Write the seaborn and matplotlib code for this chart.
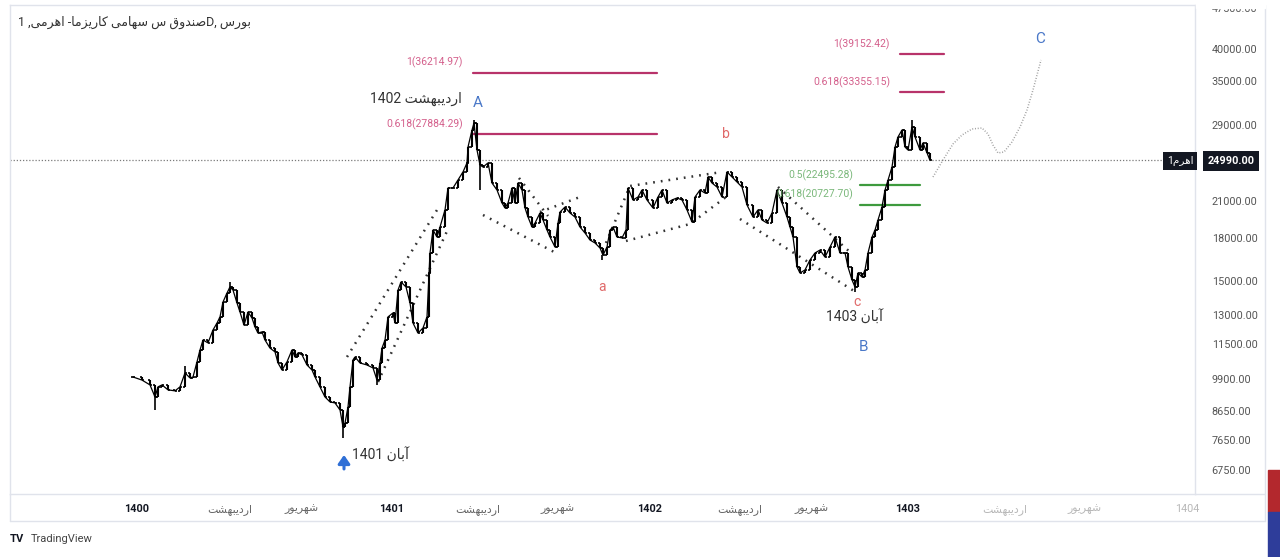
import numpy as np
import matplotlib
matplotlib.use("Agg")
import matplotlib.pyplot as plt
import seaborn as sns
from matplotlib.lines import Line2D
from matplotlib.patches import Rectangle
from matplotlib.ticker import FixedLocator, NullLocator

# ---- data (x = trading-day index, 0 = start of 1400) ----
days = [-4, 5, 13, 18, 21, 25, 31, 38, 43, 48, 53, 56, 60, 63, 66, 71, 76, 80, 83, 86,
        90, 93, 96, 100, 103, 107, 111, 115, 118, 121, 125, 128, 133, 138, 141, 145, 150, 155, 158, 161,
        165, 170, 175, 178, 183, 188, 193, 198, 203, 206, 208, 211, 213, 216, 218, 223, 230, 236, 240, 243,
        245, 248, 251, 256, 258, 261, 264, 269, 273, 276, 281, 286, 290, 292, 293, 296, 300, 303, 308, 311,
        316, 321, 326, 330, 331, 335, 337, 340, 343, 346, 351, 355, 360, 365, 368, 371, 375, 378, 381, 385,
        388, 391, 395, 398, 403, 406, 410, 413, 418, 421, 423, 428, 433, 438, 443, 448, 453, 458, 463, 466,
        470, 473, 476, 480, 485, 489, 491, 496, 501, 505, 510, 516, 521, 525, 530, 535, 540, 545, 550, 555,
        558, 563, 568, 571, 575, 580, 585, 590, 595, 600, 605, 610, 616, 621, 625, 630, 635, 640, 645, 650,
        653, 656, 660, 663, 668, 673, 678, 683, 688, 693, 698, 703, 708, 711, 715, 718, 721, 725, 728, 731,
        735, 738, 741, 745, 748, 751, 755, 758, 761, 765, 768, 771, 775, 778, 783, 786, 790, 793]
closes = [10000, 9870, 9670, 9190, 9590, 9670, 9470, 9430, 9590, 10170, 9960, 10000, 10660, 11210, 11690, 11550, 12200, 12560, 12890, 13730,
          14260, 14630, 14440, 13670, 13160, 12450, 13160, 12830, 12350, 12040, 12100, 11690, 11300, 11120, 10610, 10300, 10660, 11210, 10880, 11070,
          10980, 10520, 10300, 10000, 9590, 9190, 9000, 8960, 8700, 8100, 8230, 8810, 9590, 10750, 10880, 10610, 10520, 10390, 9870, 10610,
          11300, 11690, 12890, 13110, 12560, 14440, 14940, 14630, 13670, 12560, 12040, 12300, 12890, 15520, 16890, 18610, 18070, 18850, 20260, 22230,
          22230, 22990, 23790, 24710, 26430, 28400, 29260, 26100, 24500, 24290, 24710, 22700, 22040, 20860, 20430, 20860, 22230, 20860, 22700, 22040,
          20430, 19660, 18850, 19170, 20000, 19420, 18610, 18070, 17320, 19170, 20080, 20510, 20000, 19660, 18850, 18380, 17840, 17620, 17250, 16740,
          17320, 18610, 18850, 18070, 18000, 18610, 22230, 21130, 21400, 22040, 21130, 20430, 21400, 22040, 20860, 21130, 21310, 21130, 20260, 19250,
          21400, 22040, 21760, 23290, 22700, 22320, 21400, 23790, 23290, 22800, 22320, 20690, 19660, 20260, 19420, 19170, 20000, 22040, 20860, 19660,
          18850, 18070, 15920, 15520, 15720, 16400, 16890, 17100, 16600, 17320, 18070, 16890, 16890, 15920, 15070, 14630, 15520, 15260, 15720, 16890,
          18070, 18610, 19420, 20510, 22040, 22990, 24290, 26430, 27580, 28400, 26430, 26100, 28770, 27580, 26100, 26890, 25770, 24990]
# wicks that reach past the open/close range
wick_days = [18, 48, 93, 206, 240, 337, 343, 465, 718, 775]
wick_prices = [8700, 10480, 14940, 7730, 9670, 29630, 22040, 16400, 14300, 29630]

last_price = 24990
fib_red = [36214.97, 27884.29, 39152.42, 33355.15]
fib_red_text = ["1(36214.97)", "0.618(27884.29)", "1(39152.42)", "0.618(33355.15)"]
fib_green = [22495.28, 20727.70]
fib_green_text = ["0.5(22495.28)", "0.618(20727.70)"]

price_ticks = [6750, 7650, 8650, 9900, 11500, 13000, 15000, 18000, 21000, 29000, 35000, 40000, 47500]
time_ticks = [0, 93, 165, 255, 341, 421, 513, 603, 675, 770, 868, 948, 1050]


# ---- minimal Persian shaping (matplotlib has no bidi / joining) ----
FORMS = {
    "ا": ("\uFE8D", "\uFE8E", None, None), "آ": ("\uFE81", "\uFE82", None, None),
    "ب": ("\uFE8F", "\uFE90", "\uFE91", "\uFE92"), "ت": ("\uFE95", "\uFE96", "\uFE97", "\uFE98"),
    "د": ("\uFEA9", "\uFEAA", None, None), "ر": ("\uFEAD", "\uFEAE", None, None),
    "ز": ("\uFEAF", "\uFEB0", None, None), "س": ("\uFEB1", "\uFEB2", "\uFEB3", "\uFEB4"),
    "ش": ("\uFEB5", "\uFEB6", "\uFEB7", "\uFEB8"), "ص": ("\uFEB9", "\uFEBA", "\uFEBB", "\uFEBC"),
    "ق": ("\uFED5", "\uFED6", "\uFED7", "\uFED8"), "م": ("\uFEE1", "\uFEE2", "\uFEE3", "\uFEE4"),
    "ن": ("\uFEE5", "\uFEE6", "\uFEE7", "\uFEE8"), "ه": ("\uFEE9", "\uFEEA", "\uFEEB", "\uFEEC"),
    "و": ("\uFEED", "\uFEEE", None, None), "ی": ("\uFBFC", "\uFBFD", "\uFBFE", "\uFBFF"),
    "ک": ("\uFB8E", "\uFB8F", "\uFB90", "\uFB91"),
}


def fa(word):
    out = []
    for i, ch in enumerate(word):
        if ch not in FORMS:
            out.append(ch)
            continue
        iso, fin, ini, med = FORMS[ch]
        prev = word[i - 1] if i > 0 else ""
        nxt = word[i + 1] if i < len(word) - 1 else ""
        jp = prev in FORMS and FORMS[prev][2] is not None
        jn = ini is not None and nxt in FORMS
        out.append(med if jp and jn else fin if jp else ini if jn else iso)
    return "".join(reversed(out))


sns.set_theme(style="white")
plt.rcParams["font.family"] = ["Roboto", "DejaVu Sans"]

W, H = 1280, 557
fig = plt.figure(figsize=(W / 100, H / 100), dpi=100)
X0, X1, Y0, Y1 = 10, 1195, 5, 494
ax = fig.add_axes([X0 / W, 1 - Y1 / H, (X1 - X0) / W, (Y1 - Y0) / H])
ax.set_yscale("log")
ax.set_xlim(-127, 1058)
ax.set_ylim(6098, 48175)


def at(xp, yp):
    # screen pixel of the reference -> data coords (for drawings / labels only)
    return xp - 137, 40000 * np.exp(-(yp - 49) / 236.6)


# price bars (open = previous close)
opens = [closes[0]] + closes[:-1]
lo = np.minimum(opens, closes)
hi = np.maximum(opens, closes)
ax.vlines(days, lo, hi, color="black", lw=1.5, zorder=5)
ax.hlines(opens, np.array(days) - 1.8, days, color="black", lw=1.2, zorder=5)
ax.hlines(closes, days, np.array(days) + 1.8, color="black", lw=1.2, zorder=5)
sns.lineplot(x=days, y=closes, ax=ax, color="black", lw=0.9, zorder=4)
wick_close = [closes[int(np.argmin(np.abs(np.array(days) - d)))] for d in wick_days]
ax.vlines(wick_days, np.minimum(wick_close, wick_prices), np.maximum(wick_close, wick_prices),
          color="black", lw=1.2, zorder=5)

# last price dotted line
ax.axhline(last_price, color="#7a7a7a", lw=0.9, ls=(0, (1, 1.5)), zorder=2)

# dotted drawings (wedges / triangles)
dot = dict(color="#333333", lw=1.8, ls=(0, (0.7, 2.4)), zorder=3)
drawings = [
    [(347, 357), (437, 210)], [(378, 382), (448, 229)],
    [(483, 215), (556, 253)], [(519, 178), (548, 216)], [(540, 212), (580, 197)],
    [(606, 243), (630, 186), (722, 172)], [(626, 241), (690, 224), (726, 197)],
    [(778, 187), (851, 253)], [(740, 219), (854, 291)],
]
for pts in drawings:
    xy = np.array([at(*p) for p in pts])
    ax.plot(xy[:, 0], xy[:, 1], **dot)

# projected path
proj = [(933, 177), (943, 160), (953, 144), (962, 135), (972, 129), (982, 128), (988, 134), (993, 145),
        (998, 153), (1004, 152), (1012, 142), (1020, 127), (1027, 110), (1033, 90), (1037, 75), (1041, 60)]
pxy = np.array([at(*p) for p in proj])
ax.plot(pxy[:, 0], pxy[:, 1], color="#9a9a9a", lw=1.1, ls=(0, (0.6, 1.2)), zorder=3)

# fib levels
red_line, red_txt = "#b8336a", "#d4608c"
for lvl, txt, (xa, xb) in zip(fib_red, fib_red_text, [(336, 520), (336, 520), (763, 807), (763, 807)]):
    ax.plot([xa, xb], [lvl, lvl], color=red_line, lw=1.6, zorder=3)
    ax.annotate(txt, (xa - 10, lvl), xytext=(0, 3), textcoords="offset points",
                ha="right", va="bottom", fontsize=7.5, color=red_txt)
green_line, green_txt = "#3e9a3e", "#7bb87b"
for lvl, txt in zip(fib_green, fib_green_text):
    ax.plot([723, 783], [lvl, lvl], color=green_line, lw=1.6, zorder=3)
    ax.annotate(txt, (716, lvl), xytext=(0, 3), textcoords="offset points",
                ha="right", va="bottom", fontsize=7.5, color=green_txt, zorder=6)

# wave labels
blue, pink, dark = "#4a78c8", "#e06a6a", "#333333"
for s, p, c, fs in [("A", (478, 103), blue, 11), ("B", (864, 347), blue, 11), ("C", (1040, 39), blue, 11),
                    ("a", (602, 287), pink, 10), ("b", (726, 134), pink, 10), ("c", (857, 302), pink, 10)]:
    ax.text(*at(*p), s, ha="center", va="center", fontsize=fs, color=c, zorder=6)
ax.text(*at(416, 99), "1402 " + fa("اردیبهشت"), ha="center", va="center", fontsize=10, color=dark)
ax.text(*at(855, 317), "1403 " + fa("آبان"), ha="center", va="center", fontsize=10, color=dark, zorder=6)
ax.text(*at(380, 455), "1401 " + fa("آبان"), ha="center", va="center", fontsize=10, color=dark)
ax.annotate("", at(344, 455), xytext=at(344, 469),
            arrowprops=dict(arrowstyle="-|>,head_length=0.5,head_width=0.35", color="#2f6fd6",
                            lw=2.2, mutation_scale=10, shrinkA=0, shrinkB=0))

# axes styling
for side in ["top", "left", "bottom", "right"]:
    ax.spines[side].set_color("#e0e3eb")
    ax.spines[side].set_linewidth(1)
ax.yaxis.tick_right()
ax.yaxis.set_major_locator(FixedLocator(price_ticks))
ax.yaxis.set_minor_locator(NullLocator())
ax.set_yticklabels([f"{v:.2f}" for v in price_ticks])
ax.tick_params(axis="y", length=0, pad=12, labelsize=7.8, labelcolor="#555555")
month = [fa("اردیبهشت"), fa("شهریور")]
xlabels = ["1400", *month, "1401", *month, "1402", *month, "1403", *month, "1404"]
ax.set_xticks(time_ticks, xlabels)
ax.tick_params(axis="x", length=0, pad=7, labelsize=7.8)
for i, lab in enumerate(ax.get_xticklabels()):
    if i in (0, 3, 6, 9):
        lab.set_color("#131722")
        lab.set_fontweight("bold")
    elif i >= 10:
        lab.set_color("#b8b8b8")
    else:
        lab.set_color("#666666")
ax.set_xlabel("")
ax.set_ylabel("")

# frame pieces outside the pane
fig.add_artist(Line2D([X0 / W, 1265 / W], [1 - 521 / H] * 2, color="#e0e3eb", lw=1))
fig.add_artist(Line2D([X0 / W, X0 / W], [1 - 494 / H, 1 - 521 / H], color="#e0e3eb", lw=1))
fig.add_artist(Line2D([X1 / W, 1265 / W], [1 - 494 / H] * 2, color="#e0e3eb", lw=1))
fig.add_artist(Line2D([1265 / W, 1265 / W], [1 - 5 / H, 1 - 521 / H], color="#e0e3eb", lw=1))
# top strip hides the upper half of the 47500 label, as in the screenshot
fig.add_artist(Rectangle((X1 / W + 0.001, 1 - 8 / H), (1264 - X1) / W, 8 / H, color="white", zorder=10))

# price tags
fig.text(1231 / W, 1 - 161 / H, f"{last_price:.2f}", ha="center", va="center", fontsize=7.8,
         color="white", fontweight="bold",
         bbox=dict(boxstyle="square,pad=0.45", fc="#131722", ec="none"))
fig.text(1180 / W, 1 - 161 / H, "1" + fa("اهرم"), ha="center", va="center", fontsize=7.5,
         color="white", bbox=dict(boxstyle="square,pad=0.4", fc="#131722", ec="none"))

# title (visual order, left to right)
title = ("1 ," + fa("اهرمی") + " -" + fa("کاریزما") + " " + fa("سهامی") + " " + fa("س") + " "
         + fa("صندوق") + "D, " + fa("بورس"))
fig.text(18 / W, 1 - 22 / H, title, ha="left", va="center", fontsize=9, color="#333333")

# footer logo
fig.text(10 / W, 1 - 539 / H, "TV", ha="left", va="center", fontsize=8, fontweight="bold", color="#131722")
fig.text(31 / W, 1 - 539 / H, "TradingView", ha="left", va="center", fontsize=8, color="#444444")

# colour strip at the lower right edge
fig.add_artist(Rectangle((1268 / W, 1 - 512 / H), 12 / W, 42 / H, color="#b3282d"))
fig.add_artist(Rectangle((1268 / W, 0), 12 / W, 45 / H, color="#2e3d9a"))

fig.savefig("out.png", dpi=100)
